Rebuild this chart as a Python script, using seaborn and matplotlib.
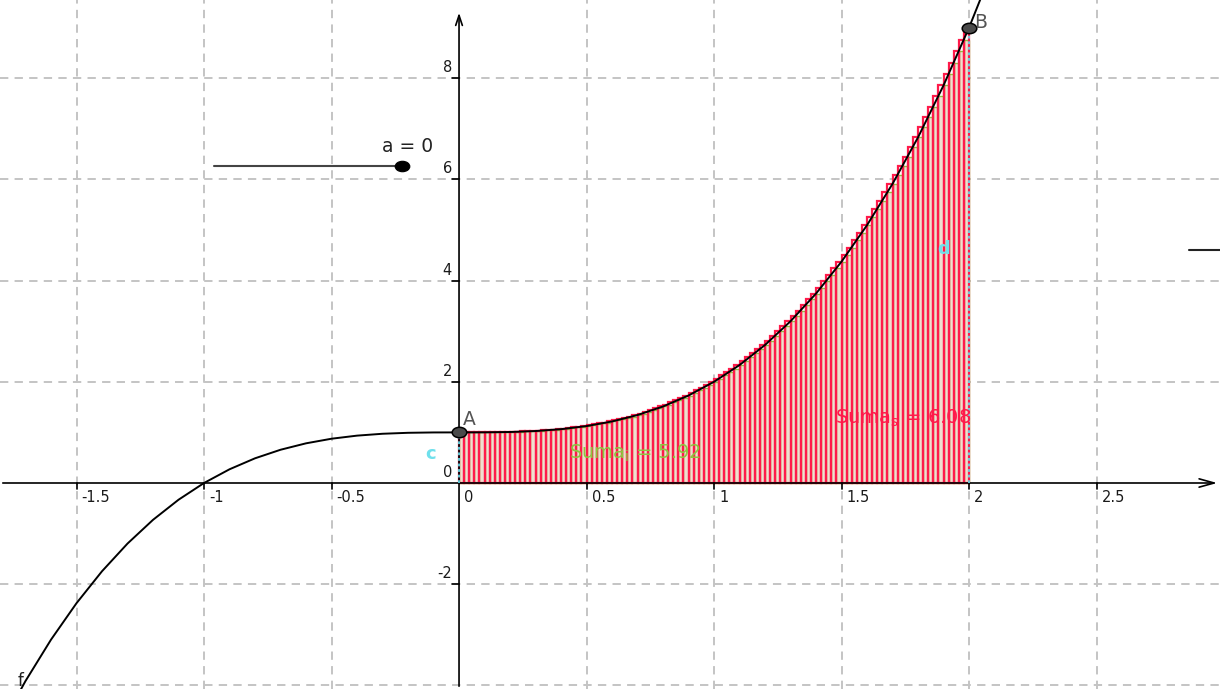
import matplotlib
matplotlib.use("Agg")
import matplotlib.pyplot as plt
from matplotlib.path import Path
from matplotlib.transforms import Affine2D
import seaborn as sns
import pandas as pd

# ---------------- data ----------------
# f(x) = x^3 + 1 sampled along the visible curve
curve_x = [-1.8, -1.7, -1.6, -1.5, -1.4, -1.3, -1.2, -1.1, -1.0, -0.9, -0.8, -0.7, -0.6,
           -0.5, -0.4, -0.3, -0.2, -0.1, 0.0, 0.1, 0.2, 0.3, 0.4, 0.5, 0.6, 0.7, 0.8,
           0.9, 1.0, 1.1, 1.2, 1.3, 1.4, 1.5, 1.6, 1.7, 1.8, 1.9, 2.0, 2.1]
curve_y = [-4.832, -3.913, -3.096, -2.375, -1.744, -1.197, -0.728, -0.331, 0.0, 0.271,
           0.488, 0.657, 0.784, 0.875, 0.936, 0.973, 0.992, 0.999, 1.0, 1.001, 1.008,
           1.027, 1.064, 1.125, 1.216, 1.343, 1.512, 1.729, 2.0, 2.331, 2.728, 3.197,
           3.744, 4.375, 5.096, 5.913, 6.832, 7.859, 9.0, 10.261]

# partition of [0, 2] into 100 sub-intervals (width 0.02) and f at the nodes
bar_width = 0.02
node_x = [round(0.02 * k, 2) for k in range(101)]
node_y = [1.000, 1.000, 1.000, 1.000, 1.001, 1.001, 1.002, 1.003, 1.004, 1.006,
          1.008, 1.011, 1.014, 1.018, 1.022, 1.027, 1.033, 1.039, 1.047, 1.055,
          1.064, 1.074, 1.085, 1.097, 1.111, 1.125, 1.141, 1.157, 1.176, 1.195,
          1.216, 1.238, 1.262, 1.287, 1.314, 1.343, 1.373, 1.405, 1.439, 1.475,
          1.512, 1.551, 1.593, 1.636, 1.681, 1.729, 1.779, 1.831, 1.885, 1.941,
          2.000, 2.061, 2.125, 2.191, 2.260, 2.331, 2.405, 2.482, 2.561, 2.643,
          2.728, 2.816, 2.907, 3.000, 3.097, 3.197, 3.300, 3.406, 3.515, 3.628,
          3.744, 3.863, 3.986, 4.112, 4.242, 4.375, 4.512, 4.652, 4.796, 4.944,
          5.096, 5.252, 5.411, 5.574, 5.742, 5.913, 6.088, 6.268, 6.452, 6.640,
          6.832, 7.029, 7.230, 7.435, 7.645, 7.859, 8.078, 8.301, 8.530, 8.762,
          9.000]
lower_left = node_x[:-1]
lower_heights = node_y[:-1]   # lower sum: left endpoints
upper_heights = node_y[1:]    # upper sum: right endpoints

sum_upper = 6.08
sum_lower = 5.92
slider_value = 0

x_ticks = [-1.5, -1, -0.5, 0, 0.5, 1, 1.5, 2, 2.5]
x_tick_labels = ["-1.5", "-1", "-0.5", "0", "0.5", "1", "1.5", "2", "2.5"]
y_ticks = [-2, 0, 2, 4, 6, 8]
y_tick_labels = ["-2", "0", "2", "4", "6", "8"]
x_grid = [-1.5, -1, -0.5, 0.5, 1, 1.5, 2, 2.5]
y_grid = [-4, -2, 2, 4, 6, 8]

point_names = ["A", "B"]
point_x = [0, 2]
point_y = [1, 9]

# ---------------- style ----------------
sns.set_theme(style="white")
plt.rcParams["font.family"] = ["DejaVu Sans"]
plt.rcParams["lines.scale_dashes"] = False

fig = plt.figure(figsize=(12.2, 6.89), dpi=100)
ax = fig.add_axes([0, 0, 1, 1])
ax.set_axis_off()
XMIN, XMAX = -1.8, 2.984
YMIN, YMAX = -4.071, 9.545
ax.set_xlim(XMIN, XMAX)
ax.set_ylim(YMIN, YMAX)

px_x = (XMAX - XMIN) / 1220.0
px_y = (YMAX - YMIN) / 689.0

ellipse = Path.unit_circle().transformed(Affine2D().scale(1.4, 1.0))

grid_kw = dict(color="#c4c4c4", lw=1.4, dashes=(6, 4.5), zorder=1)
for gx in x_grid:
    ax.plot([gx, gx], [YMIN, YMAX], **grid_kw)
for gy in y_grid:
    ax.plot([XMIN, XMAX], [gy, gy], **grid_kw)

# axes with arrows
ax.annotate("", xy=(XMAX, 0), xytext=(XMIN, 0),
            arrowprops=dict(arrowstyle="->,head_length=0.9,head_width=0.25", color="black", lw=1.2),
            zorder=3)
ax.annotate("", xy=(0, YMAX - 10 * px_y), xytext=(0, YMIN),
            arrowprops=dict(arrowstyle="->,head_length=0.6,head_width=0.2", color="black", lw=1.2),
            zorder=3)

# ticks and tick labels
for xv, lab in zip(x_ticks, x_tick_labels):
    if xv != 0:
        ax.plot([xv, xv], [0, -6 * px_y], color="black", lw=1.2, zorder=3)
    ax.text(xv + 5 * px_x, -7 * px_y, lab, ha="left", va="top", fontsize=10.5, color="#1a1a1a", zorder=6)
for yv, lab in zip(y_ticks, y_tick_labels):
    if yv != 0:
        ax.plot([0, -7 * px_x], [yv, yv], color="black", lw=1.2, zorder=3)
    ax.text(-7 * px_x, yv + 3 * px_y, lab, ha="right", va="bottom", fontsize=10.5, color="#1a1a1a", zorder=6)

# lower sum rectangles (green edges), then upper sum (red)
ax.bar(lower_left, lower_heights, width=bar_width, align="edge",
       color="#efded0", edgecolor="#8cc63f", linewidth=1.0, zorder=2)
ax.bar(lower_left, upper_heights, width=bar_width, align="edge",
       color="none", edgecolor="#ff1a4a", linewidth=1.6, zorder=2.5)

# cyan boundary lines c and d
ax.plot([0, 0], [0, 1], color="#66d9e8", lw=1.3, dashes=(2, 2), zorder=4)
ax.plot([2, 2], [0, 9], color="#66d9e8", lw=1.3, dashes=(2, 2), zorder=4)
ax.text(-0.11, 0.58, "c", color="#6fe0ec", fontsize=13, fontweight="bold",
        ha="center", va="center", zorder=6)
ax.text(1.9, 4.63, "d", color="#6fe0ec", fontsize=13, fontweight="bold",
        ha="center", va="center", zorder=6)

# function curve
curve = pd.DataFrame({"x": curve_x, "y": curve_y})
sns.lineplot(data=curve, x="x", y="y", ax=ax, color="black", lw=1.4, sort=False, zorder=5)
ax.text(-1.72, -3.92, "f", fontsize=12, color="#222222", ha="center", va="center", zorder=6)

# points A and B
pts = pd.DataFrame({"x": point_x, "y": point_y, "name": point_names})
sns.scatterplot(data=pts, x="x", y="y", ax=ax, s=110, marker=ellipse, color="#4a4a4a",
                edgecolor="black", linewidth=1.1, zorder=7, legend=False)
ax.text(0.015, 1.06, "A", fontsize=13.5, color="#555555", ha="left", va="bottom", zorder=7)
ax.text(2.02, 8.92, "B", fontsize=13.5, color="#555555", ha="left", va="bottom", zorder=7)

# sum labels
ax.text(1.475, 1.28, r"Suma$_\mathregular{s}$ = %.2f" % sum_upper, color="#ff1a4a",
        fontsize=14, ha="left", va="center", zorder=6)
ax.text(0.43, 0.58, r"Suma$_\mathregular{i}$ = %.2f" % sum_lower, color="#8cc63f",
        fontsize=14, ha="left", va="center", zorder=6)

# slider a
ax.plot([-0.96, -0.224], [6.26, 6.26], color="#444444", lw=1.5, zorder=5)
sns.scatterplot(x=[-0.224], y=[6.26], ax=ax, s=110, marker=ellipse, color="black",
                edgecolor="black", zorder=6, legend=False)
ax.text(-0.20, 6.64, "a = %d" % slider_value, fontsize=13.5, color="#222222",
        ha="center", va="center", zorder=6)
# partial slider at the right edge
ax.plot([2.862, XMAX], [4.6, 4.6], color="#222222", lw=1.5, zorder=5)

fig.savefig("out.png", dpi=100)
